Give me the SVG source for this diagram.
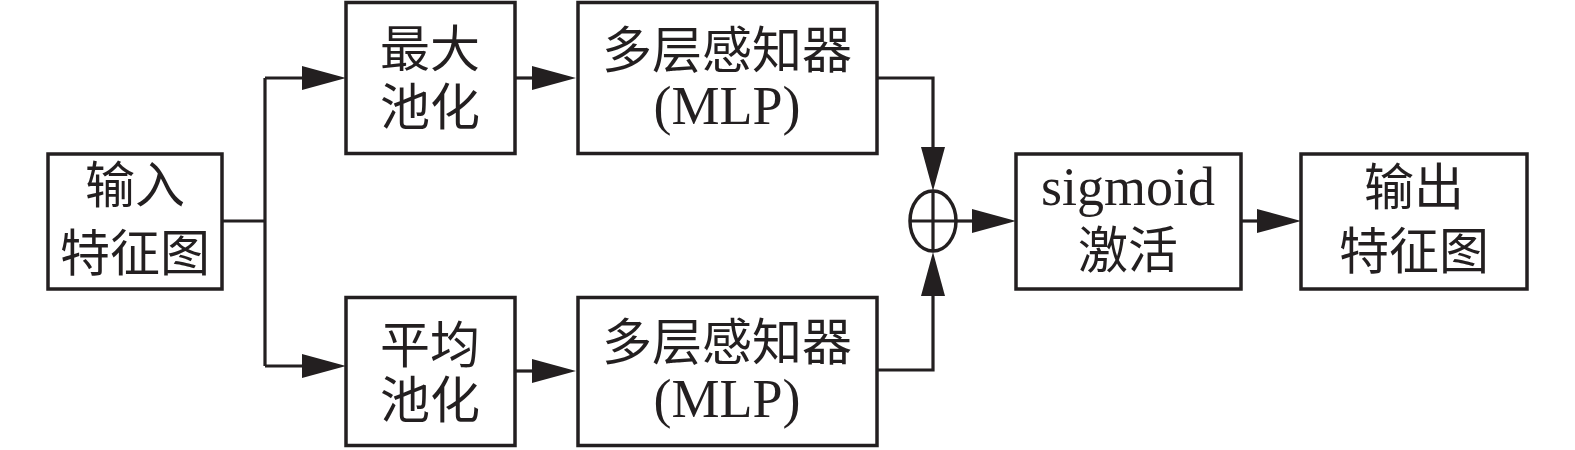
<svg xmlns="http://www.w3.org/2000/svg" width="1575" height="450" viewBox="0 0 1575 450">
<style>
.box{fill:#fff;stroke:#231f20;stroke-width:3.5}
.cn{font-family:"Noto Sans CJK SC","Noto Sans CJK JP",sans-serif;font-size:50px;fill:#231f20;text-anchor:middle}
.en{font-family:"Liberation Serif","Times New Roman",serif;font-size:54px;fill:#231f20;text-anchor:middle}
.ln{fill:none;stroke:#231f20;stroke-width:3.2}
</style>
<defs>
<marker id="ah" markerUnits="userSpaceOnUse" markerWidth="46" markerHeight="26" refX="0" refY="12" orient="auto" viewBox="0 0 46 24">
<path d="M0,0 L44,12 L0,24 Z" fill="#231f20"/>
</marker>
</defs>
<rect width="1575" height="450" fill="#fff"/>
<g id="input">
<rect class="box" x="48" y="154" width="174" height="135"/>
<text class="cn" x="135" y="203">输入</text>
<text class="cn" x="135" y="271">特征图</text>
</g>
<g id="maxpool">
<rect class="box" x="346" y="2.5" width="169" height="151"/>
<text class="cn" x="430" y="67">最大</text>
<text class="cn" x="430" y="125">池化</text>
</g>
<g id="avgpool">
<rect class="box" x="346" y="297.5" width="169" height="148"/>
<text class="cn" x="430" y="363">平均</text>
<text class="cn" x="430" y="418">池化</text>
</g>
<g id="mlp1">
<rect class="box" x="578" y="2.5" width="299" height="151"/>
<text class="cn" x="727" y="68">多层感知器</text>
<text class="en" x="727" y="124">(MLP)</text>
</g>
<g id="mlp2">
<rect class="box" x="578" y="297.5" width="299" height="148"/>
<text class="cn" x="727" y="360">多层感知器</text>
<text class="en" x="727" y="417">(MLP)</text>
</g>
<g id="sum">
<ellipse cx="933" cy="221" rx="23" ry="30" fill="#fff" stroke="#231f20" stroke-width="3.5"/>
<path d="M910 221 H956 M933 191 V251" stroke="#231f20" stroke-width="3.2"/>
</g>
<g id="sigmoid">
<rect class="box" x="1016" y="154" width="225" height="135"/>
<text class="en" x="1128" y="205">sigmoid</text>
<text class="cn" x="1128" y="268">激活</text>
</g>
<g id="output">
<rect class="box" x="1301" y="154" width="226" height="135"/>
<text class="cn" x="1414" y="205">输出</text>
<text class="cn" x="1414" y="269">特征图</text>
</g>
<g id="connectors">
<path class="ln" d="M222 221 H265 M265 78 V366"/>
<path class="ln" d="M265 78 H302" marker-end="url(#ah)"/>
<path class="ln" d="M265 366 H302" marker-end="url(#ah)"/>
<path class="ln" d="M515 78 H532" marker-end="url(#ah)"/>
<path class="ln" d="M515 371 H532" marker-end="url(#ah)"/>
<path class="ln" d="M877 78 H933 V147" marker-end="url(#ah)"/>
<path class="ln" d="M877 370 H933 V296" marker-end="url(#ah)"/>
<path class="ln" d="M957 221 H972" marker-end="url(#ah)"/>
<path class="ln" d="M1241 221 H1257" marker-end="url(#ah)"/>
</g>
</svg>
